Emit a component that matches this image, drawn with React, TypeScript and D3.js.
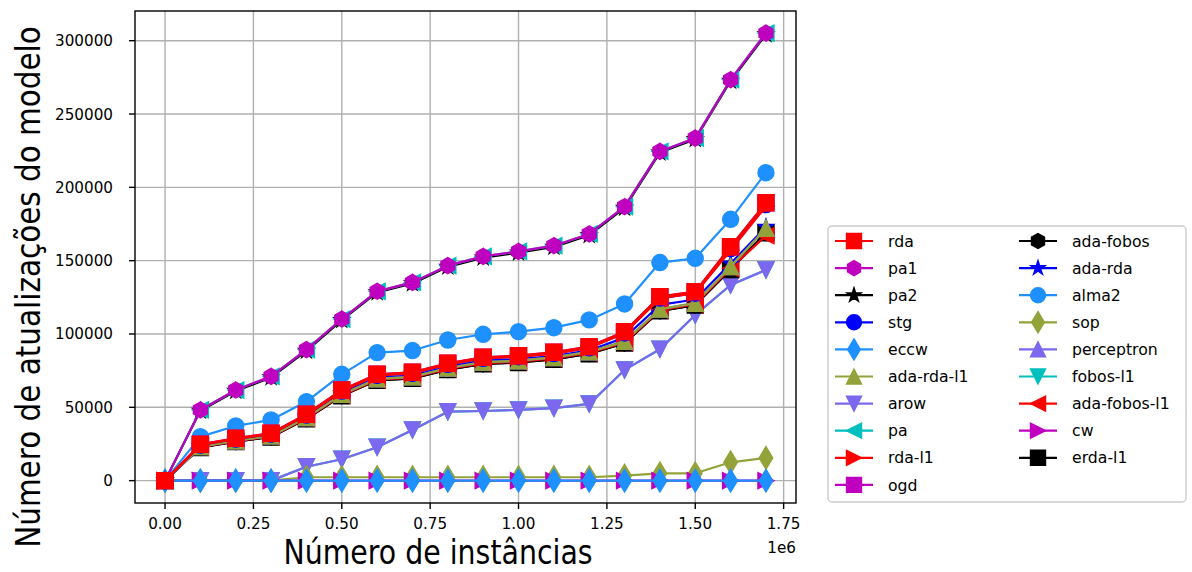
import React from 'react';
import * as d3 from 'd3';

// x values (number of instances)
const instances = [0, 100000, 200000, 300000, 400000, 500000, 600000, 700000, 800000, 900000,
  1000000, 1100000, 1200000, 1300000, 1400000, 1500000, 1600000, 1700000];

// model updates per algorithm
const rda = [0, 24800, 28900, 32300, 45300, 61800, 72500, 73900, 80000, 84100, 85200, 87500, 91400, 101600, 125500, 128900, 159500, 189500];
const pa1 = [0, 48200, 61800, 71100, 89300, 110200, 129100, 135200, 146600, 152900, 156300, 160200, 168200, 186800, 224500, 233600, 273400, 305200];
const pa2 = [0, 47600, 61100, 70400, 88500, 109400, 128300, 134400, 145800, 152100, 155500, 159400, 167400, 186000, 223700, 232800, 272500, 304300];
const stg = [0, 24300, 28400, 31800, 44700, 61100, 71800, 73200, 79300, 83400, 84500, 86700, 90600, 100700, 124500, 127800, 158300, 188200];
const eccw = [0, 0, 0, 0, 0, 0, 0, 0, 0, 0, 0, 0, 0, 0, 0, 0, 0, 0];
const adaRdaL1 = [0, 23200, 27200, 30500, 43000, 58800, 69400, 70800, 76800, 80800, 81800, 84000, 87800, 95000, 117000, 121000, 146000, 172000];
const arow = [0, 0, 0, 0, 9500, 14600, 22800, 34600, 47000, 47500, 48200, 49400, 52300, 75500, 89600, 113000, 133400, 143700];
const pa = [0, 48200, 61800, 71100, 89300, 110200, 129100, 135200, 146600, 152900, 156300, 160200, 168200, 186800, 224500, 233600, 273400, 305200];
const rdaL1 = [0, 24300, 28400, 31800, 44700, 61000, 71800, 73200, 79200, 83300, 84400, 86600, 90500, 100500, 124300, 127800, 157000, 187000];
const ogd = [0, 24800, 28900, 32300, 45300, 61800, 72500, 73900, 80000, 84100, 85200, 87500, 91400, 101600, 125500, 128900, 159500, 189500];
const adaFobos = [0, 22600, 26600, 29800, 42200, 57900, 68400, 69700, 75700, 79600, 80600, 82700, 86500, 93800, 115800, 119700, 144000, 169000];
const adaRda = [0, 23600, 27700, 31000, 43700, 59700, 70300, 71700, 77700, 81800, 82800, 85000, 88800, 97500, 119800, 123500, 148000, 173000];
const alma2 = [0, 30000, 37300, 41400, 53900, 72500, 87300, 88700, 95900, 99800, 101600, 104300, 109600, 120500, 148700, 151600, 178200, 210000];
const sop = [0, 0, 0, 0, 2300, 2300, 2300, 2300, 2300, 2300, 2300, 2300, 2300, 3400, 5000, 5000, 12500, 15500];
const perceptron = [0, 23200, 27200, 30500, 43000, 58800, 69400, 70800, 76800, 80800, 81800, 84000, 87800, 95000, 117000, 121000, 146000, 172000];
const fobosL1 = [0, 0, 0, 0, 9500, 14600, 22800, 34600, 47000, 47500, 48200, 49400, 52300, 75500, 89600, 113000, 133400, 143700];
const adaFobosL1 = [0, 22900, 26900, 30100, 42500, 58300, 68800, 70200, 76200, 80100, 81100, 83300, 87100, 94300, 116300, 120300, 144800, 167000];
const cw = [0, 0, 0, 0, 0, 0, 0, 0, 0, 0, 0, 0, 0, 0, 0, 0, 0, 0];
const erdaL1 = [0, 22600, 26600, 29800, 42200, 57900, 68400, 69700, 75700, 79600, 80600, 82700, 86500, 93800, 115800, 119700, 144000, 169000];

const xTicks = [0, 250000, 500000, 750000, 1000000, 1250000, 1500000, 1750000];
const yTicks = [0, 50000, 100000, 150000, 200000, 250000, 300000];

// legend order (two columns, column-major)
const series = [
  { name: 'rda', color: '#ff0000', marker: 's', values: rda },
  { name: 'pa1', color: '#bf00bf', marker: 'h', values: pa1 },
  { name: 'pa2', color: '#000000', marker: '*', values: pa2 },
  { name: 'stg', color: '#0000ff', marker: 'o', values: stg },
  { name: 'eccw', color: '#1e90ff', marker: 'd', values: eccw },
  { name: 'ada-rda-l1', color: '#93a33a', marker: '^', values: adaRdaL1 },
  { name: 'arow', color: '#7b68ee', marker: 'v', values: arow },
  { name: 'pa', color: '#00bfbf', marker: '<', values: pa },
  { name: 'rda-l1', color: '#ff0000', marker: '>', values: rdaL1 },
  { name: 'ogd', color: '#bf00bf', marker: 's', values: ogd },
  { name: 'ada-fobos', color: '#000000', marker: 'h', values: adaFobos },
  { name: 'ada-rda', color: '#0000ff', marker: '*', values: adaRda },
  { name: 'alma2', color: '#1e90ff', marker: 'o', values: alma2 },
  { name: 'sop', color: '#93a33a', marker: 'd', values: sop },
  { name: 'perceptron', color: '#7b68ee', marker: '^', values: perceptron },
  { name: 'fobos-l1', color: '#00bfbf', marker: 'v', values: fobosL1 },
  { name: 'ada-fobos-l1', color: '#ff0000', marker: '<', values: adaFobosL1 },
  { name: 'cw', color: '#bf00bf', marker: '>', values: cw },
  { name: 'erda-l1', color: '#000000', marker: 's', values: erdaL1 },
];

// painting order, bottom first
const drawOrder = ['fobos-l1', 'arow', 'sop', 'cw', 'eccw', 'alma2', 'pa2', 'pa', 'pa1',
  'erda-l1', 'ada-fobos', 'ada-fobos-l1', 'ada-rda', 'perceptron', 'ada-rda-l1', 'stg', 'ogd', 'rda-l1', 'rda'];

const W = 1192;
const H = 572;
const left = 135, right = 796, top = 11, bottom = 503;
const font = 'DejaVu Sans, sans-serif';

function markerPath(m: string, s: number) {
  const h = s / 2;
  const poly = (pts: number[][]) => 'M' + pts.map(p => p[0].toFixed(2) + ',' + p[1].toFixed(2)).join('L') + 'Z';
  switch (m) {
    case 's':
      return poly([[-h, -h], [h, -h], [h, h], [-h, h]]);
    case 'o':
      return `M${h},0A${h},${h} 0 1,1 ${-h},0A${h},${h} 0 1,1 ${h},0Z`;
    case 'h':
      return poly(d3.range(6).map(k => {
        const a = -Math.PI / 2 + k * Math.PI / 3;
        return [h * Math.cos(a), h * Math.sin(a)];
      }));
    case '*':
      return poly(d3.range(10).map(k => {
        const a = -Math.PI / 2 + k * Math.PI / 5;
        const r = k % 2 === 0 ? h : h * 0.381966;
        return [r * Math.cos(a), r * Math.sin(a)];
      }));
    case 'd': {
      const dy = s * 0.7071;
      const dx = dy * 0.6;
      return poly([[0, -dy], [dx, 0], [0, dy], [-dx, 0]]);
    }
    case '^':
      return poly([[0, -h], [h, h], [-h, h]]);
    case 'v':
      return poly([[0, h], [h, -h], [-h, -h]]);
    case '<':
      return poly([[-h, 0], [h, -h], [h, h]]);
    case '>':
      return poly([[h, 0], [-h, -h], [-h, h]]);
  }
  return '';
}

export default function App() {
  const x = d3.scaleLinear().domain([-85000, 1785000]).range([left, right]);
  const y = d3.scaleLinear().domain([-15250, 320250]).range([bottom, top]);

  const line = d3.line<number>()
    .x((d, i) => x(instances[i]))
    .y(d => y(d));

  const ms = 16;
  const lw = 2.2;

  const ordered = drawOrder.map(n => series.find(s => s.name === n)!);

  // legend layout
  const lgX = 828, lgY = 226, lgW = 358, lgH = 276;
  const rowH = 27.1;
  const firstRow = 241;
  const perCol = 10;

  return (
    <svg width={W} height={H} style={{ position: 'absolute', left: 0, top: 0 }} fontFamily={font}>
      <rect width={W} height={H} fill="#ffffff" />
      {/* grid */}
      <g stroke="#b0b0b0" strokeWidth={1.4}>
        {xTicks.map(t => <line key={'gx' + t} x1={x(t)} x2={x(t)} y1={top} y2={bottom} />)}
        {yTicks.map(t => <line key={'gy' + t} x1={left} x2={right} y1={y(t)} y2={y(t)} />)}
      </g>
      {/* series */}
      <g>
        {ordered.map(s => (
          <g key={s.name}>
            <path d={line(s.values) || ''} fill="none" stroke={s.color} strokeWidth={lw} strokeLinejoin="round" />
            {s.values.map((v, i) => (
              <path key={i} d={markerPath(s.marker, ms)} transform={`translate(${x(instances[i])},${y(v)})`}
                fill={s.color} stroke={s.color} strokeWidth={1.4} strokeLinejoin="miter" />
            ))}
          </g>
        ))}
      </g>
      {/* spines */}
      <rect x={left} y={top} width={right - left} height={bottom - top} fill="none" stroke="#000" strokeWidth={1.4} />
      {/* ticks */}
      <g fontSize={15.2} fill="#000">
        {xTicks.map(t => (
          <g key={'tx' + t}>
            <line x1={x(t)} x2={x(t)} y1={bottom} y2={bottom + 6} stroke="#000" strokeWidth={1.4} />
            <text x={x(t)} y={bottom + 26} textAnchor="middle">{(t / 1e6).toFixed(2)}</text>
          </g>
        ))}
        {yTicks.map(t => (
          <g key={'ty' + t}>
            <line x1={left - 6} x2={left} y1={y(t)} y2={y(t)} stroke="#000" strokeWidth={1.4} />
            <text x={113} y={y(t) + 5.5} textAnchor="end">{t}</text>
          </g>
        ))}
        <text x={right} y={553} textAnchor="end">1e6</text>
      </g>
      {/* axis labels (horizontally condensed, as in the source figure) */}
      <text transform="translate(438,563.5) scale(0.835,1)" fontSize={34} textAnchor="middle">Número de instâncias</text>
      <text transform="translate(40,287) rotate(-90) scale(0.867,1)" fontSize={34} textAnchor="middle">Número de atualizações do modelo</text>
      {/* legend */}
      <rect x={lgX} y={lgY} width={lgW} height={lgH} rx={4} fill="#ffffff" fillOpacity={0.8} stroke="#cccccc" strokeWidth={1.4} />
      {series.map((s, i) => {
        const col = Math.floor(i / perCol);
        const row = i % perCol;
        const hx = col === 0 ? 835 : 1019;
        const cy = firstRow + row * rowH;
        return (
          <g key={'lg' + s.name}>
            <line x1={hx} x2={hx + 38} y1={cy} y2={cy} stroke={s.color} strokeWidth={lw} />
            <path d={markerPath(s.marker, 15)} transform={`translate(${hx + 19},${cy})`} fill={s.color} stroke={s.color} strokeWidth={1.4} />
            <text x={hx + 53} y={cy + 5.6} fontSize={15.7}>{s.name}</text>
          </g>
        );
      })}
    </svg>
  );
}
